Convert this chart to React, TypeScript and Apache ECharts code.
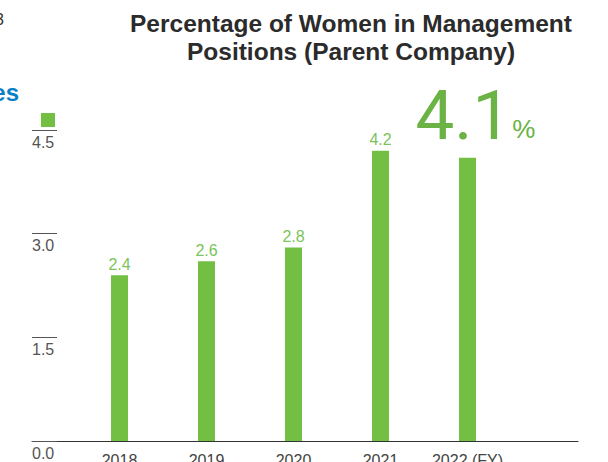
import React, { useEffect, useRef } from "react";
import * as echarts from "echarts";

const categories = ["2018", "2019", "2020", "2021", "2022 (FY)"];
const values = [2.4, 2.6, 2.8, 4.2, 4.1];
const highlightIndex = 4;
const yTicks = { min: 0, max: 4.5, interval: 1.5 };
const titleLines = ["Percentage of Women in Management", "Positions (Parent Company)"];
const seriesName = "Women in Management";

const FONT = "'Liberation Sans', Arial, Helvetica, sans-serif";
const BIGFONT = "Roboto, 'Liberation Sans', sans-serif";
const BAR = "#72bf44";
const LABEL = "#7cc35a";
const BIG = "#6ab344";

export default function App() {
  const ref = useRef<HTMLDivElement>(null);
  useEffect(() => {
    if (!ref.current) return;
    const chart = echarts.init(ref.current, undefined, { renderer: "svg" });
    const data = values.map((v, i) =>
      i === highlightIndex
        ? {
            value: v,
            label: {
              show: true,
              position: "top",
              distance: 8,
              offset: [8, 0],
              formatter: () => `{big|${v.toFixed(1)}}{pct|%}`,
              rich: {
                big: { fontSize: 69, lineHeight: 69, color: BIG, fontFamily: BIGFONT, fontWeight: "normal" },
                pct: { fontSize: 26, color: BIG, fontFamily: FONT, verticalAlign: "bottom", padding: [0, 0, 8, 1] },
              },
            },
          }
        : v
    );
    chart.setOption({
      animation: false,
      textStyle: { fontFamily: FONT },
      legend: {
        left: 36,
        top: 108,
        itemWidth: 14,
        itemHeight: 14,
        icon: "rect",
        formatter: () => "",
        data: [seriesName],
      },
      grid: [
        { left: 32, right: 30, top: 130, bottom: 21, outerBoundsMode: "none", containLabel: false },
        { left: 76, width: 435, top: 130, bottom: 21, outerBoundsMode: "none", containLabel: false },
      ],
      xAxis: [
        {
          type: "value",
          gridIndex: 0,
          min: 0,
          max: 1,
          axisLine: { show: true, lineStyle: { color: "#333", width: 1 } },
          axisTick: { show: false },
          axisLabel: { show: false },
          splitLine: { show: false },
        },
        {
          type: "category",
          gridIndex: 1,
          data: categories,
          axisLine: { show: false },
          axisTick: { show: false },
          axisLabel: { color: "#444", fontSize: 16, margin: 11, interval: 0, fontFamily: FONT },
        },
      ],
      yAxis: [
        {
          type: "value",
          gridIndex: 0,
          min: yTicks.min,
          max: yTicks.max,
          interval: yTicks.interval,
          axisLine: { show: false },
          axisTick: { show: true, inside: true, length: 25, lineStyle: { color: "#555", width: 1 } },
          axisLabel: {
            inside: true,
            margin: 0,
            color: "#555",
            fontSize: 16,
            verticalAlign: "top",
            padding: [4, 0, 0, 0],
            fontFamily: FONT,
            formatter: (v: number) => v.toFixed(1),
          },
          splitLine: { show: false },
        },
        {
          type: "value",
          gridIndex: 1,
          min: yTicks.min,
          max: yTicks.max,
          interval: yTicks.interval,
          show: false,
        },
      ],
      series: [
        {
          name: seriesName,
          type: "bar",
          xAxisIndex: 1,
          yAxisIndex: 1,
          barWidth: 17,
          itemStyle: { color: BAR },
          label: {
            show: true,
            position: "top",
            distance: 3,
            color: LABEL,
            fontSize: 16,
            fontFamily: FONT,
            formatter: (p: any) => Number(p.value).toFixed(1),
          },
          data,
        },
      ],
      graphic: [
        {
          type: "text",
          x: 351,
          y: 37.5,
          style: {
            text: titleLines.join("\n"),
            font: `bold 24.5px ${FONT}`,
            fill: "#2b2b2b",
            align: "center",
            verticalAlign: "middle",
            lineHeight: 28,
          },
        },
        {
          type: "text",
          x: 19,
          y: 92,
          style: { text: "es", font: `bold 24px ${FONT}`, fill: "#0a7fc6", align: "right", verticalAlign: "middle" },
        },
        {
          type: "text",
          x: 4,
          y: 19,
          style: { text: "3", font: `16px ${FONT}`, fill: "#333", align: "right", verticalAlign: "middle" },
        },
      ],
    });
    return () => chart.dispose();
  }, []);
  return <div ref={ref} style={{ width: 608, height: 462, position: "absolute", left: 0, top: 0 }} />;
}
